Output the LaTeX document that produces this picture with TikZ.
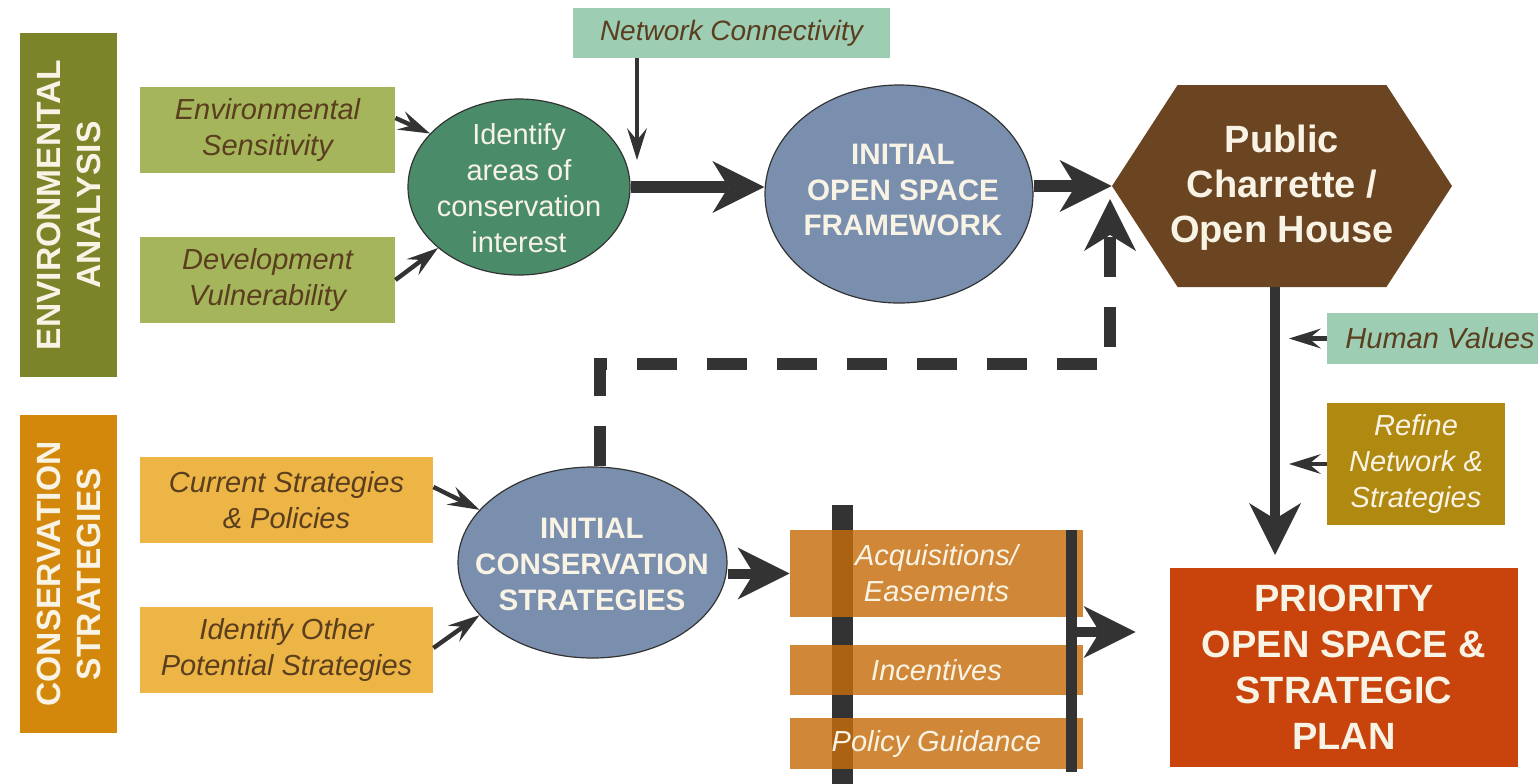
\documentclass[tikz,border=0pt]{standalone}
\usepackage{fontspec}
\setmainfont{Liberation Sans}
\usetikzlibrary{arrows.meta,shapes.geometric,shapes.symbols}

\definecolor{envgreen}{RGB}{123,132,41}
\definecolor{envbox}{RGB}{165,181,92}
\definecolor{consorange}{RGB}{212,136,11}
\definecolor{consbox}{RGB}{237,181,70}
\definecolor{idgreen}{RGB}{74,140,106}
\definecolor{slate}{RGB}{122,143,174}
\definecolor{mint}{RGB}{157,205,179}
\definecolor{pubbrown}{RGB}{107,68,33}
\definecolor{refgold}{RGB}{176,138,16}
\definecolor{planred}{RGB}{200,68,12}
\definecolor{tooltan}{RGB}{198,110,12}
\definecolor{inktext}{RGB}{90,62,30}
\definecolor{cream}{RGB}{248,243,228}
\definecolor{ink}{RGB}{51,51,51}

\tikzset{
  sidebar/.style={fill=#1, text=cream, rotate=90, inner sep=0pt, align=center,
    font=\fontsize{16.8}{20}\selectfont\bfseries, minimum height=48.5pt},
  inbox/.style={fill=#1, text=inktext, inner sep=0pt, align=center,
    font=\fontsize{14.5}{18}\selectfont\itshape},
  toolbox/.style={fill=tooltan, fill opacity=0.82, text opacity=1, text=cream,
    inner sep=0pt, align=center, minimum width=146.5pt,
    font=\fontsize{14.5}{18}\selectfont\itshape},
  oval/.style={ellipse, draw=ink, line width=0.6pt, fill=#1, inner sep=0pt},
  ovaltxt/.style={text=cream, align=center, inner sep=0pt},
  tip/.style={-{Stealth[length=26pt,width=26pt,inset=8pt,line width=0pt]}},
  bigarr/.style={tip, draw=ink, line width=6pt},
  midarr/.style={tip, draw=ink, line width=5pt},
  dasharr/.style={tip, draw=ink, line width=6pt, dash pattern=on 20pt off 15pt},
  thinarr/.style={-{Stealth[length=16pt,width=10pt,inset=6pt,line width=0pt]},
    draw=ink, line width=2.2pt},
  barline/.style={draw=ink}
}

\begin{document}
\begin{tikzpicture}[x=0.5pt,y=-0.5pt]
\useasboundingbox (0,0) rectangle (1538,783);

% side headings
\node[sidebar=envgreen, minimum width=172pt] (envbar) at (68.5,205) {ENVIRONMENTAL\\ANALYSIS};
\node[sidebar=consorange, minimum width=159pt] (consbar) at (68.5,574) {CONSERVATION\\STRATEGIES};

% inputs
\node[inbox=envbox, minimum width=127.5pt, minimum height=43pt] (envsens) at (267.5,130) {Environmental\\Sensitivity};
\node[inbox=envbox, minimum width=127.5pt, minimum height=43pt] (devvul) at (267.5,280) {Development\\Vulnerability};
\node[inbox=consbox, minimum width=146.5pt, minimum height=43pt] (curstrat) at (286.5,500) {Current Strategies\\\& Policies};
\node[inbox=consbox, minimum width=146.5pt, minimum height=43pt] (othstrat) at (286.5,650) {Identify Other\\Potential Strategies};
\node[inbox=mint, minimum width=158.5pt, minimum height=25pt, font=\fontsize{14}{17}\selectfont\itshape] (netconn) at (731.5,33) {Network Connectivity};
\node[inbox=mint, minimum width=113pt, minimum height=25.5pt] (humval) at (1440,338.5) {Human Values};
\node[inbox=refgold, text=cream, minimum width=89pt, minimum height=61pt] (refine) at (1416,464) {Refine\\Network \&\\Strategies};

% process shapes
\node[oval=idgreen, minimum width=111pt, minimum height=88pt] (ident) at (519,187) {};
\node[ovaltxt, font=\fontsize{14.5}{18}\selectfont] (identtxt) at (519,188) {Identify\\areas of\\conservation\\interest};
\node[oval=slate, minimum width=134pt, minimum height=109pt] (osf) at (899,194) {};
\node[ovaltxt, font=\fontsize{14.8}{17.6}\selectfont\bfseries] (osftxt) at (903,190) {INITIAL\\OPEN SPACE\\FRAMEWORK};
\node[oval=slate, minimum width=134.5pt, minimum height=95.5pt] (ics) at (592.5,562.5) {};
\node[ovaltxt, font=\fontsize{14.8}{18}\selectfont\bfseries] (icstxt) at (592,564) {INITIAL\\CONSERVATION\\STRATEGIES};
\node[signal, signal to=west and east, signal pointer angle=114, fill=pubbrown,
  inner sep=0pt, minimum width=170pt, minimum height=101pt] (pub) at (1282,186) {};
\node[ovaltxt, font=\fontsize{19}{22.5}\selectfont\bfseries] (pubtxt) at (1282,188) {Public\\Charrette /\\Open House};
\node[fill=planred, text=cream, inner sep=0pt, align=center, minimum width=174pt, minimum height=99.5pt,
  font=\fontsize{19}{23}\selectfont\bfseries] (prio) at (1344,667.5) {PRIORITY\\OPEN SPACE \&\\STRATEGIC\\PLAN};

% tools
\draw[barline, line width=10.5pt] (842,505) -- (842,790);
\node[toolbox, minimum height=43.5pt] (acq) at (936.5,573.5) {Acquisitions/\\Easements};
\node[toolbox, minimum height=25pt] (incent) at (936.5,670) {Incentives};
\node[toolbox, minimum height=25.5pt] (policy) at (936.5,743.5) {Policy Guidance};
\draw[barline, line width=5.5pt] (1071,530) -- (1071,772);

\coordinate (netin) at (637,160);
\coordinate (dashtip) at (1110,199);
\coordinate (plantop) at (1275,555);
\coordinate (rbar) at (1071,632);

\draw[thinarr] ([yshift=6pt]envsens.east) -- (ident.149);
\draw[thinarr] (devvul.east) -- (ident.217);
\draw[thinarr] ([yshift=6.5pt]curstrat.east) -- (ics.155);
\draw[thinarr] ([yshift=1pt]othstrat.east) -- (ics.205);
\draw[thinarr] (netconn.south -| netin) -- (netin);
\draw[bigarr] (ident.east) -- (ident.east -| osf.west);
\draw[bigarr] (osf.east |- pub.west) -- (pub.west);
\draw[dasharr] ([xshift=3.5pt]ics.north) |- (dashtip |- 0,364) -- (dashtip);
\draw[midarr] (pub.south -| plantop) -- (plantop);
\draw[thinarr, shorten >=7pt] (humval.west) -- (humval.west -| plantop);
\draw[thinarr, shorten >=7pt] (refine.west) -- (refine.west -| plantop);
\draw[midarr] (ics.east |- acq.west) -- (acq.west);
\draw[midarr, shorten >=17pt] (rbar) -- (rbar -| prio.west);
\end{tikzpicture}
\end{document}
